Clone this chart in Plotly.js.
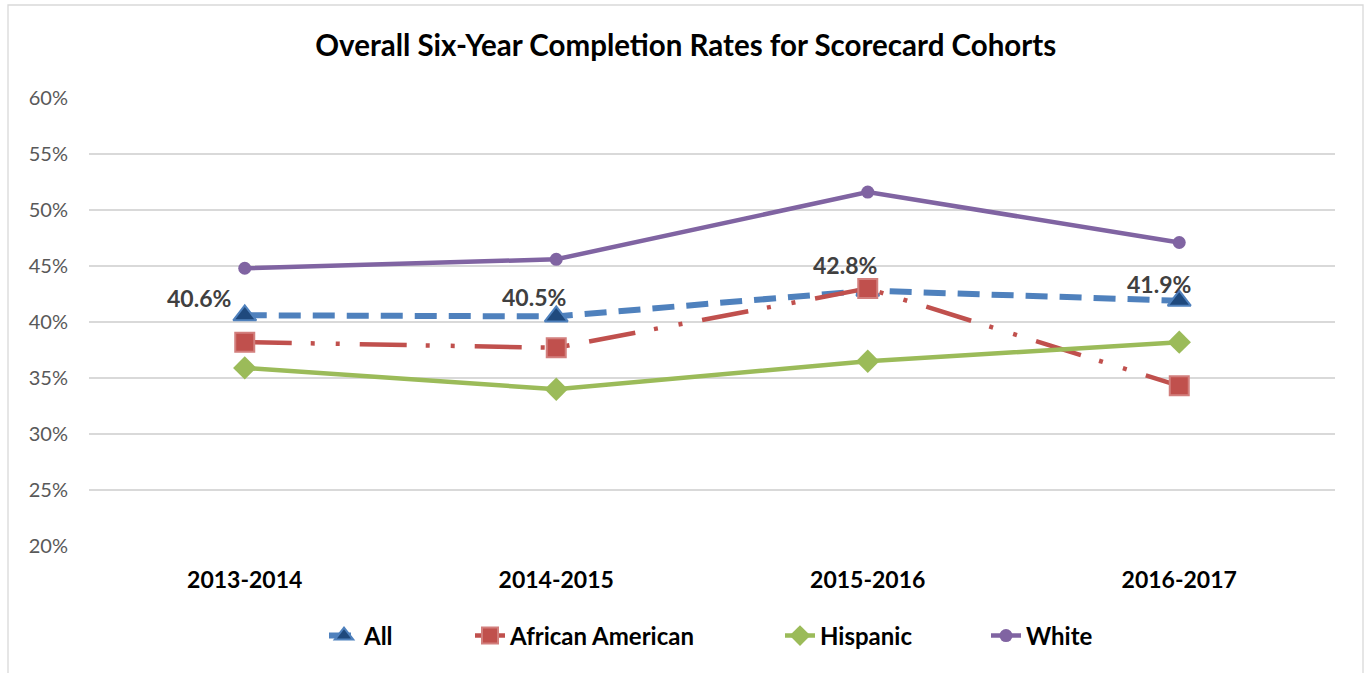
<!DOCTYPE html>
<html>
<head>
<meta charset="utf-8">
<script src="https://cdn.plot.ly/plotly-3.0.1.min.js"></script>
<style>html,body{margin:0;padding:0;background:#fff;}#chart{width:1366px;height:673px;}</style>
</head>
<body>
<div id="chart"></div>
<script>
// ---- data ----
const categories = ['2013-2014', '2014-2015', '2015-2016', '2016-2017'];
const allRates = [40.6, 40.5, 42.8, 41.9];
const africanAmericanRates = [38.2, 37.7, 43.0, 34.3];
const hispanicRates = [35.9, 34.0, 36.5, 38.2];
const whiteRates = [44.8, 45.6, 51.6, 47.1];
const yTickValues = [20, 25, 30, 35, 40, 45, 50, 55, 60];
const yTickLabels = ['20%', '25%', '30%', '35%', '40%', '45%', '50%', '55%', '60%'];

// ---- styling ----
const FONT = 'Lato, "Open Sans", sans-serif';
const labelNudge = [[-46, 17], [-22, 19], [-23, 26], [-20, 17]];
// left pixel where each legend entry's text begins
const legendTextStart = [364, 510, 820, 1026];
const LEGEND_TEXT_OFFSET = 40;

const traces = [
  {
    name: 'All', x: categories, y: allRates, type: 'scatter', mode: 'lines+markers', legend: 'legend',
    line: {color: '#4F81BD', width: 6, dash: '22px,12px'},
    marker: {symbol: 'triangle-up', size: 20, color: '#1F497D', line: {color: '#4F81BD', width: 2}}
  },
  {
    name: 'African American', x: categories, y: africanAmericanRates, type: 'scatter', mode: 'lines+markers', legend: 'legend2',
    line: {color: '#C0504D', width: 4.5, dash: '47px,19px,4px,21px,4px,20px'},
    marker: {symbol: 'square', size: 19, color: '#C0504D', line: {color: '#D27F7D', width: 2}}
  },
  {
    name: 'Hispanic', x: categories, y: hispanicRates, type: 'scatter', mode: 'lines+markers', legend: 'legend3',
    line: {color: '#9BBB59', width: 4.5},
    marker: {symbol: 'diamond', size: 18, color: '#9BBB59'}
  },
  {
    name: 'White', x: categories, y: whiteRates, type: 'scatter', mode: 'lines+markers', legend: 'legend4',
    line: {color: '#8064A2', width: 4.5},
    marker: {symbol: 'circle', size: 13, color: '#8064A2'}
  }
];

const annotations = allRates.map((v, i) => ({
  x: categories[i], y: v, xref: 'x', yref: 'y',
  text: v.toFixed(1) + '%', showarrow: false,
  xanchor: 'center', yanchor: 'middle',
  xshift: labelNudge[i][0], yshift: labelNudge[i][1],
  font: {family: FONT, size: 23, color: '#404040', weight: 'bold'}
}));

function legendAt(i) {
  return {
    orientation: 'h', xref: 'container', yref: 'container',
    x: (legendTextStart[i] - LEGEND_TEXT_OFFSET) / 1366, xanchor: 'left',
    y: 1 - 636 / 673, yanchor: 'middle',
    bgcolor: 'rgba(0,0,0,0)',
    font: {family: FONT, size: 24, color: '#000000', weight: 'bold'}
  };
}

const layout = {
  width: 1366, height: 673,
  paper_bgcolor: '#FFFFFF', plot_bgcolor: '#FFFFFF',
  margin: {l: 89, r: 31, t: 98, b: 127},
  font: {family: FONT},
  title: {
    text: '<b>Overall Six-Year Completion Rates for Scorecard Cohorts</b>',
    font: {family: FONT, size: 29.5, color: '#000000'},
    x: 0.502, xref: 'container', xanchor: 'center',
    y: 1 - 46 / 673, yref: 'container', yanchor: 'middle'
  },
  xaxis: {
    type: 'category', range: [-0.5, 3.5], fixedrange: true,
    showgrid: false, zeroline: false, showline: false, ticks: '',
    tickfont: {family: FONT, size: 23, color: '#000000', weight: 'bold'},
    ticklabelstandoff: 18
  },
  yaxis: {
    range: [20, 60], tickmode: 'array', tickvals: yTickValues, ticktext: yTickLabels,
    showgrid: true, gridcolor: '#D9D9D9', gridwidth: 1.3,
    zeroline: false, showline: false, ticks: '',
    tickfont: {family: FONT, size: 20, color: '#595959'},
    ticklabelstandoff: 20
  },
  showlegend: true,
  legend: legendAt(0),
  legend2: legendAt(1),
  legend3: legendAt(2),
  legend4: legendAt(3),
  annotations: annotations,
  shapes: [{
    type: 'rect', xref: 'paper', yref: 'paper', layer: 'below',
    x0: (8 - 89) / 1246, x1: (1363 - 89) / 1246,
    y0: (546 - 690) / 448, y1: (546 - 5) / 448,
    line: {color: '#D9D9D9', width: 1.3}, fillcolor: 'rgba(0,0,0,0)'
  }]
};

Plotly.newPlot('chart', traces, layout, {displayModeBar: false, staticPlot: true});
</script>
</body>
</html>
